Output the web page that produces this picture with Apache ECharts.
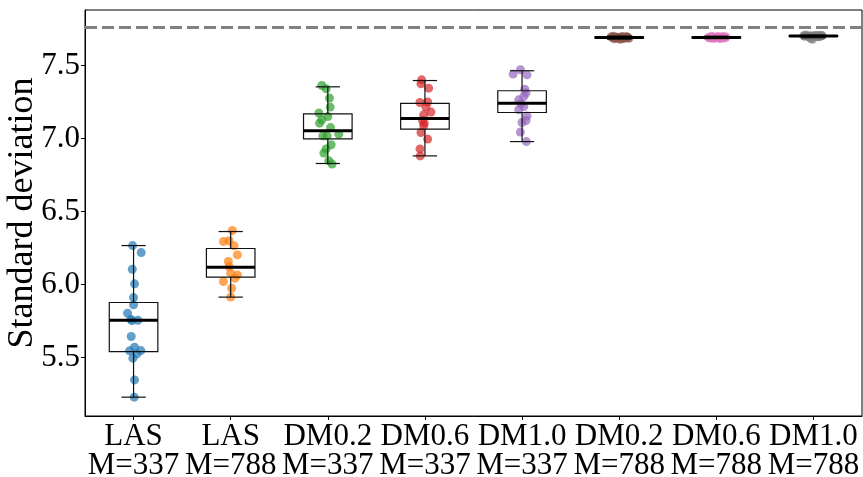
<!DOCTYPE html>
<html>
<head>
<meta charset="utf-8">
<script src="https://cdn.jsdelivr.net/npm/echarts@6/dist/echarts.min.js"></script>
<style>html,body{margin:0;padding:0;background:#fff}#c{width:863px;height:477px}</style>
</head>
<body>
<div id="c"></div>
<script>
const categories = ['LAS\nM=337','LAS\nM=788','DM0.2\nM=337','DM0.6\nM=337','DM1.0\nM=337','DM0.2\nM=788','DM0.6\nM=788','DM1.0\nM=788'];
const colors = ['#1f77b4','#ff7f0e','#2ca02c','#d62728','#9467bd','#8c564b','#e377c2','#7f7f7f'];
const yTicks = [5.5, 6.0, 6.5, 7.0, 7.5];
const referenceLine = 7.76;

// box stats: [min, Q1, median, Q3, max]
const boxStats = [
  [5.229, 5.541, 5.756, 5.877, 6.267],
  [5.914, 6.051, 6.119, 6.247, 6.363],
  [6.829, 6.998, 7.053, 7.169, 7.354],
  [6.881, 7.064, 7.137, 7.240, 7.397],
  [6.979, 7.178, 7.242, 7.327, 7.464],
  [7.680, 7.688, 7.692, 7.696, 7.702],
  [7.684, 7.688, 7.692, 7.696, 7.701],
  [7.690, 7.699, 7.702, 7.705, 7.708]
];

const vals1 = [6.267,6.219,6.105,6.005,5.911,5.861,5.804,5.763,5.753,5.756,5.644,5.571,5.546,5.548,5.525,5.496,5.347,5.229];
const jit1  = [-0.010,0.079,-0.013,0.010,0.000,0.000,-0.062,-0.028,-0.017,0.044,-0.024,0.010,-0.041,0.075,0.034,-0.007,0.010,0.007];
const vals2 = [6.370,6.295,6.300,6.265,6.203,6.158,6.123,6.078,6.066,6.044,6.021,5.975,5.914];
const jit2  = [0.017,-0.075,-0.017,0.034,0.069,-0.024,-0.017,0.000,0.069,0.044,-0.075,0.010,0.000];
const vals3 = [7.363,7.340,7.277,7.215,7.174,7.151,7.128,7.105,7.075,7.030,7.018,7.018,6.957,6.929,6.900,6.847,6.825];
const jit3  = [-0.062,-0.017,0.017,0.024,-0.092,0.000,-0.062,-0.085,0.028,0.113,-0.051,-0.007,0.034,-0.017,-0.041,0.010,0.044];
const vals4 = [7.402,7.375,7.345,7.247,7.250,7.215,7.181,7.162,7.123,7.105,7.087,7.041,6.996,6.929,6.881];
const jit4  = [-0.034,-0.041,0.038,-0.051,0.028,0.010,0.062,-0.013,-0.024,-0.007,-0.013,-0.041,0.028,-0.051,-0.048];
const vals5 = [7.471,7.441,7.436,7.338,7.311,7.288,7.265,7.238,7.219,7.197,7.155,7.123,7.110,7.044,6.979];
const jit5  = [-0.017,-0.092,0.051,0.028,0.041,0.017,-0.034,-0.010,0.017,-0.034,0.051,0.041,0.000,-0.017,0.044];
const vals6 = [7.700,7.698,7.695,7.694,7.693,7.692,7.692,7.691,7.690,7.689,7.688,7.687,7.685,7.683,7.680,7.696,7.697,7.690,7.694,7.686];
const jit6  = [-0.060,0.030,0.070,-0.020,0.050,0.000,-0.070,0.090,0.020,-0.040,0.060,-0.010,0.040,-0.050,0.010,0.080,-0.080,0.030,-0.030,0.100];
const vals7 = [7.701,7.699,7.697,7.695,7.694,7.693,7.692,7.692,7.691,7.690,7.689,7.688,7.687,7.686,7.684,7.696,7.690,7.693,7.689,7.695];
const jit7  = [-0.050,0.020,0.060,-0.030,0.070,0.000,-0.080,0.040,0.010,-0.060,0.090,-0.020,0.030,-0.040,0.050,0.080,-0.070,0.020,-0.010,0.100];
const vals8 = [7.708,7.706,7.705,7.704,7.703,7.703,7.702,7.702,7.701,7.701,7.700,7.700,7.699,7.698,7.697,7.704,7.702,7.686,7.680,7.705];
const jit8  = [-0.080,0.030,0.060,-0.040,0.080,0.000,-0.060,0.040,0.010,-0.090,0.070,-0.020,0.030,-0.050,0.050,-0.100,0.020,-0.030,-0.010,0.090];

const allVals = [vals1, vals2, vals3, vals4, vals5, vals6, vals7, vals8];
const allJit = [jit1, jit2, jit3, jit4, jit5, jit6, jit7, jit8];

const FONT = 'Liberation Serif';
const chart = echarts.init(document.getElementById('c'), null, {renderer: 'canvas'});

const scatterSeries = allVals.map((vals, g) => ({
  type: 'scatter',
  xAxisIndex: 1,
  yAxisIndex: 0,
  symbolSize: 9,
  z: 2,
  itemStyle: {color: colors[g], opacity: 0.7},
  data: vals.map((v, k) => [g + allJit[g][k], v]),
  markLine: g === 0 ? {
    silent: true,
    symbol: 'none',
    label: {show: false},
    lineStyle: {color: '#808080', width: 3, type: [12, 5], opacity: 1},
    data: [{yAxis: referenceLine}]
  } : undefined
}));

const boxSeries = {
  type: 'custom',
  xAxisIndex: 0,
  yAxisIndex: 0,
  z: 5,
  data: boxStats.map((s, i) => [i].concat(s)),
  encode: {x: 0, y: [1, 2, 3, 4, 5]},
  renderItem: function (params, api) {
    const i = api.value(0);
    const w = api.size([1, 0])[0] * 0.5;
    const pmin = api.coord([i, api.value(1)]);
    const pq1 = api.coord([i, api.value(2)]);
    const pmed = api.coord([i, api.value(3)]);
    const pq3 = api.coord([i, api.value(4)]);
    const pmax = api.coord([i, api.value(5)]);
    const x = pmed[0];
    const st = {stroke: '#111', lineWidth: 1.2, fill: null};
    return {
      type: 'group',
      children: [
        {type: 'line', shape: {x1: x, y1: pq1[1], x2: x, y2: pmin[1]}, style: st},
        {type: 'line', shape: {x1: x, y1: pq3[1], x2: x, y2: pmax[1]}, style: st},
        {type: 'line', shape: {x1: x - w / 4, y1: pmin[1], x2: x + w / 4, y2: pmin[1]}, style: st},
        {type: 'line', shape: {x1: x - w / 4, y1: pmax[1], x2: x + w / 4, y2: pmax[1]}, style: st},
        {type: 'rect', shape: {x: x - w / 2, y: pq3[1], width: w, height: pq1[1] - pq3[1]}, style: {stroke: '#111', lineWidth: 1.2, fill: 'rgba(0,0,0,0)'}},
        {type: 'line', shape: {x1: x - w / 2, y1: pmed[1], x2: x + w / 2, y2: pmed[1]}, style: {stroke: '#000', lineWidth: 3}}
      ]
    };
  }
};

chart.setOption({
  animation: false,
  backgroundColor: '#fff',
  grid: {left: 85, right: 1, top: 10, bottom: 61, outerBoundsMode: 'none', containLabel: false, show: true, borderColor: '#000', borderWidth: 1, backgroundColor: 'transparent'},
  xAxis: [
    {
      type: 'category',
      data: categories,
      boundaryGap: true,
      axisLine: {show: true, onZero: false, lineStyle: {color: '#000', width: 1}},
      axisTick: {show: true, alignWithLabel: true, length: 4, lineStyle: {color: '#000'}},
      axisLabel: {color: '#000', fontFamily: FONT, fontSize: 31, lineHeight: 29, margin: 6, interval: 0},
      splitLine: {show: false}
    },
    {
      type: 'value',
      min: -0.5,
      max: 7.5,
      show: false
    }
  ],
  yAxis: [{
    type: 'value',
    min: 5.1,
    max: 7.88,
    name: 'Standard deviation',
    nameLocation: 'middle',
    nameGap: 44,
    nameMoveOverlap: false,
    nameTextStyle: {color: '#000', fontFamily: FONT, fontSize: 36},
    axisLine: {show: true, onZero: false, lineStyle: {color: '#000', width: 1}},
    axisTick: {show: true, length: 4, lineStyle: {color: '#000'}, customValues: yTicks},
    axisLabel: {color: '#000', fontFamily: FONT, fontSize: 31, margin: 5, customValues: yTicks, formatter: v => v.toFixed(1)},
    splitLine: {show: false}
  }],
  series: scatterSeries.concat([boxSeries])
});
</script>
</body>
</html>
